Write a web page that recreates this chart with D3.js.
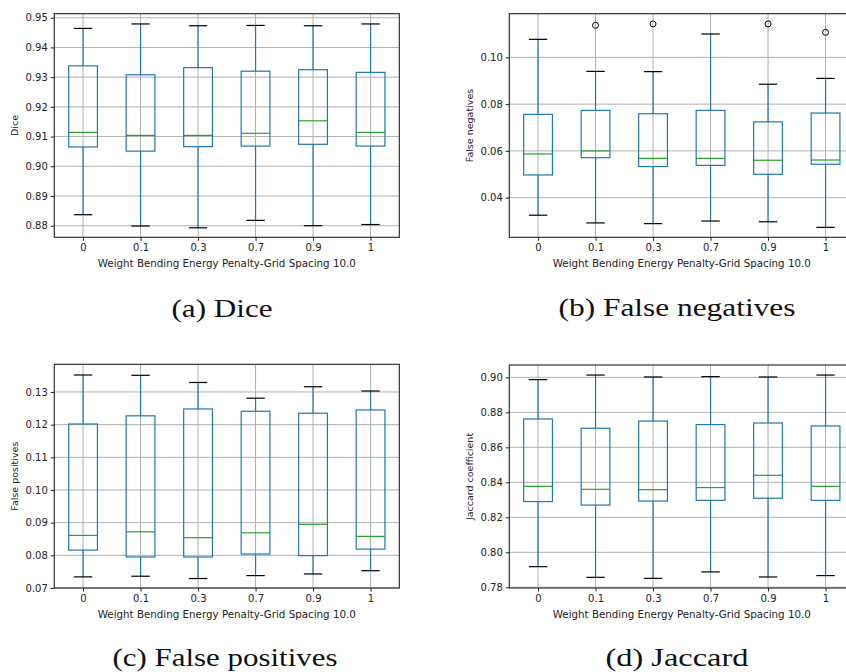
<!DOCTYPE html>
<html>
<head>
<meta charset="utf-8">
<script src="https://cdn.jsdelivr.net/npm/d3@7"></script>
<style>
  body { margin: 0; background: white; }
  svg { display: block; }
  .tick text { font-family: "DejaVu Sans", sans-serif; }
</style>
</head>
<body>
<div id="chart"></div>
<script>
// Categories (weight of the bending energy penalty)
const categories = ["0", "0.1", "0.3", "0.7", "0.9", "1"];

// Dice
const diceLow = [0.8837, 0.8799, 0.8793, 0.8818, 0.8800, 0.8804];
const diceQ1 = [0.9065, 0.9051, 0.9066, 0.9068, 0.9074, 0.9068];
const diceMed = [0.9114, 0.9104, 0.9104, 0.9111, 0.9153, 0.9114];
const diceQ3 = [0.9338, 0.9308, 0.9332, 0.9320, 0.9325, 0.9316];
const diceHigh = [0.9464, 0.9479, 0.9473, 0.9474, 0.9473, 0.9479];
const diceOut = [[], [], [], [], [], []];
const diceTicks = [0.88, 0.89, 0.90, 0.91, 0.92, 0.93, 0.94, 0.95];

// False negatives
const fnLow = [0.0325, 0.0292, 0.0289, 0.0300, 0.0297, 0.0273];
const fnQ1 = [0.0497, 0.0571, 0.0533, 0.0538, 0.0500, 0.0543];
const fnMed = [0.0587, 0.0600, 0.0568, 0.0568, 0.0560, 0.0561];
const fnQ3 = [0.0756, 0.0773, 0.0759, 0.0773, 0.0724, 0.0762];
const fnHigh = [0.1077, 0.0940, 0.0939, 0.1100, 0.0885, 0.0910];
const fnOut = [[], [0.1137], [0.1143], [], [0.1143], [0.1107]];
const fnTicks = [0.04, 0.06, 0.08, 0.10];

// False positives
const fpLow = [0.0734, 0.0736, 0.0729, 0.0738, 0.0743, 0.0753];
const fpQ1 = [0.0816, 0.0795, 0.0795, 0.0804, 0.0799, 0.0819];
const fpMed = [0.0861, 0.0872, 0.0854, 0.0869, 0.0895, 0.0858];
const fpQ3 = [0.1202, 0.1227, 0.1248, 0.1241, 0.1235, 0.1245];
const fpHigh = [0.1352, 0.1351, 0.1329, 0.1281, 0.1316, 0.1303];
const fpOut = [[], [], [], [], [], []];
const fpTicks = [0.07, 0.08, 0.09, 0.10, 0.11, 0.12, 0.13];

// Jaccard
const jacLow = [0.7918, 0.7857, 0.7851, 0.7888, 0.7859, 0.7867];
const jacQ1 = [0.8290, 0.8270, 0.8293, 0.8297, 0.8309, 0.8297];
const jacMed = [0.8377, 0.8360, 0.8358, 0.8370, 0.8440, 0.8377];
const jacQ3 = [0.8762, 0.8709, 0.8750, 0.8730, 0.8739, 0.8722];
const jacHigh = [0.8987, 0.9013, 0.9002, 0.9004, 0.9002, 0.9013];
const jacOut = [[], [], [], [], [], []];
const jacTicks = [0.78, 0.80, 0.82, 0.84, 0.86, 0.88, 0.90];

const xTitle = "Weight Bending Energy Penalty-Grid Spacing 10.0";

const svg = d3.select("#chart").append("svg")
    .attr("width", 846)
    .attr("height", 672);

function drawPanel(p) {
    const w = 345, h = p.bottom - p.top;
    const g = svg.append("g").attr("transform", `translate(${p.left}, ${p.top})`);

    const x = d3.scalePoint().domain(categories).range([w / 12, w - w / 12]);
    const step = x.step();
    const y = d3.scaleLinear().domain(p.domain).range([h, 0]);

    const rows = categories.map((c, i) => ({
        cat: c, low: p.low[i], q1: p.q1[i], med: p.med[i],
        q3: p.q3[i], high: p.high[i], out: p.out[i]
    }));

    // grid
    g.append("g").selectAll("line").data(p.ticks).enter().append("line")
        .attr("x1", 0).attr("x2", w)
        .attr("y1", d => y(d)).attr("y2", d => y(d))
        .attr("stroke", "#b0b0b0").attr("stroke-width", 1);
    g.append("g").selectAll("line").data(categories).enter().append("line")
        .attr("x1", d => x(d)).attr("x2", d => x(d))
        .attr("y1", 0).attr("y2", h)
        .attr("stroke", "#b0b0b0").attr("stroke-width", 1);

    const boxW = step * 0.5, capW = step * 0.32;
    const b = g.append("g").selectAll("g").data(rows).enter().append("g");

    // whiskers
    b.append("line")
        .attr("x1", d => x(d.cat)).attr("x2", d => x(d.cat))
        .attr("y1", d => y(d.q3)).attr("y2", d => y(d.high))
        .attr("stroke", "#1f77b4").attr("stroke-width", 1.2);
    b.append("line")
        .attr("x1", d => x(d.cat)).attr("x2", d => x(d.cat))
        .attr("y1", d => y(d.q1)).attr("y2", d => y(d.low))
        .attr("stroke", "#1f77b4").attr("stroke-width", 1.2);
    // caps
    ["high", "low"].forEach(k => {
        b.append("line")
            .attr("x1", d => x(d.cat) - capW / 2).attr("x2", d => x(d.cat) + capW / 2)
            .attr("y1", d => y(d[k])).attr("y2", d => y(d[k]))
            .attr("stroke", "#000").attr("stroke-width", 1.2);
    });
    // boxes
    b.append("rect")
        .attr("x", d => x(d.cat) - boxW / 2)
        .attr("y", d => y(d.q3))
        .attr("width", boxW)
        .attr("height", d => y(d.q1) - y(d.q3))
        .attr("fill", "none")
        .attr("stroke", "#1f77b4").attr("stroke-width", 1.2);
    // medians
    b.append("line")
        .attr("x1", d => x(d.cat) - boxW / 2).attr("x2", d => x(d.cat) + boxW / 2)
        .attr("y1", d => y(d.med)).attr("y2", d => y(d.med))
        .attr("stroke", "#2ca02c").attr("stroke-width", 1.2);
    // outliers
    b.selectAll("circle").data(d => d.out.map(v => ({ cat: d.cat, v: v }))).enter()
        .append("circle")
        .attr("cx", d => x(d.cat)).attr("cy", d => y(d.v))
        .attr("r", 3)
        .attr("fill", "none").attr("stroke", "#000").attr("stroke-width", 1);

    // axes
    const ya = g.append("g")
        .call(d3.axisLeft(y).tickValues(p.ticks).tickFormat(d3.format(".2f")).tickSize(3.5).tickPadding(3));
    const xa = g.append("g").attr("transform", `translate(0, ${h})`)
        .call(d3.axisBottom(x).tickSize(3.5).tickPadding(3));
    [ya, xa].forEach(a => {
        a.select(".domain").remove();
        a.selectAll(".tick text").style("font-size", "10px").attr("fill", "#222");
        a.selectAll(".tick line").attr("stroke", "#222");
    });

    // frame
    g.append("rect").attr("x", 0).attr("y", 0).attr("width", w).attr("height", h)
        .attr("fill", "none").attr("stroke", "#222").attr("stroke-width", 1.1);

    // axis titles
    g.append("text")
        .attr("x", w / 2).attr("y", h + 30)
        .attr("text-anchor", "middle")
        .style("font-family", "DejaVu Sans, sans-serif")
        .style("font-size", "10.3px").attr("fill", "#222")
        .text(xTitle);
    g.append("text")
        .attr("transform", `translate(${p.yLabelX}, ${h / 2}) rotate(-90)`)
        .attr("text-anchor", "middle")
        .style("font-family", "DejaVu Sans, sans-serif")
        .style("font-size", "9.5px").attr("fill", "#222")
        .text(p.yTitle);

    // caption
    svg.append("text")
        .attr("x", p.capX - p.capW / 2).attr("y", p.capY)
        .attr("textLength", p.capW)
        .attr("lengthAdjust", "spacingAndGlyphs")
        .style("font-family", "Liberation Serif, serif")
        .style("font-size", "26px").attr("fill", "#111")
        .text(p.caption);
}

drawPanel({ left: 54.3, top: 13.7, bottom: 237.3, domain: [0.8761, 0.95135],
    low: diceLow, q1: diceQ1, med: diceMed, q3: diceQ3, high: diceHigh, out: diceOut,
    ticks: diceTicks, yTitle: "Dice", yLabelX: -36,
    caption: "(a) Dice", capX: 222, capY: 317, capW: 101 });

drawPanel({ left: 509.3, top: 13.7, bottom: 237.3, domain: [0.02305, 0.11867],
    low: fnLow, q1: fnQ1, med: fnMed, q3: fnQ3, high: fnHigh, out: fnOut,
    ticks: fnTicks, yTitle: "False negatives", yLabelX: -36,
    caption: "(b) False negatives", capX: 677, capY: 316, capW: 237 });

drawPanel({ left: 54.3, top: 364.3, bottom: 588, domain: [0.07, 0.13847],
    low: fpLow, q1: fpQ1, med: fpMed, q3: fpQ3, high: fpHigh, out: fpOut,
    ticks: fpTicks, yTitle: "False positives", yLabelX: -36,
    caption: "(c) False positives", capX: 225, capY: 666, capW: 225 });

drawPanel({ left: 509.3, top: 365, bottom: 588, domain: [0.7796, 0.90705],
    low: jacLow, q1: jacQ1, med: jacMed, q3: jacQ3, high: jacHigh, out: jacOut,
    ticks: jacTicks, yTitle: "Jaccard coefficient", yLabelX: -36,
    caption: "(d) Jaccard", capX: 677, capY: 666, capW: 143 });
</script>
</body>
</html>
